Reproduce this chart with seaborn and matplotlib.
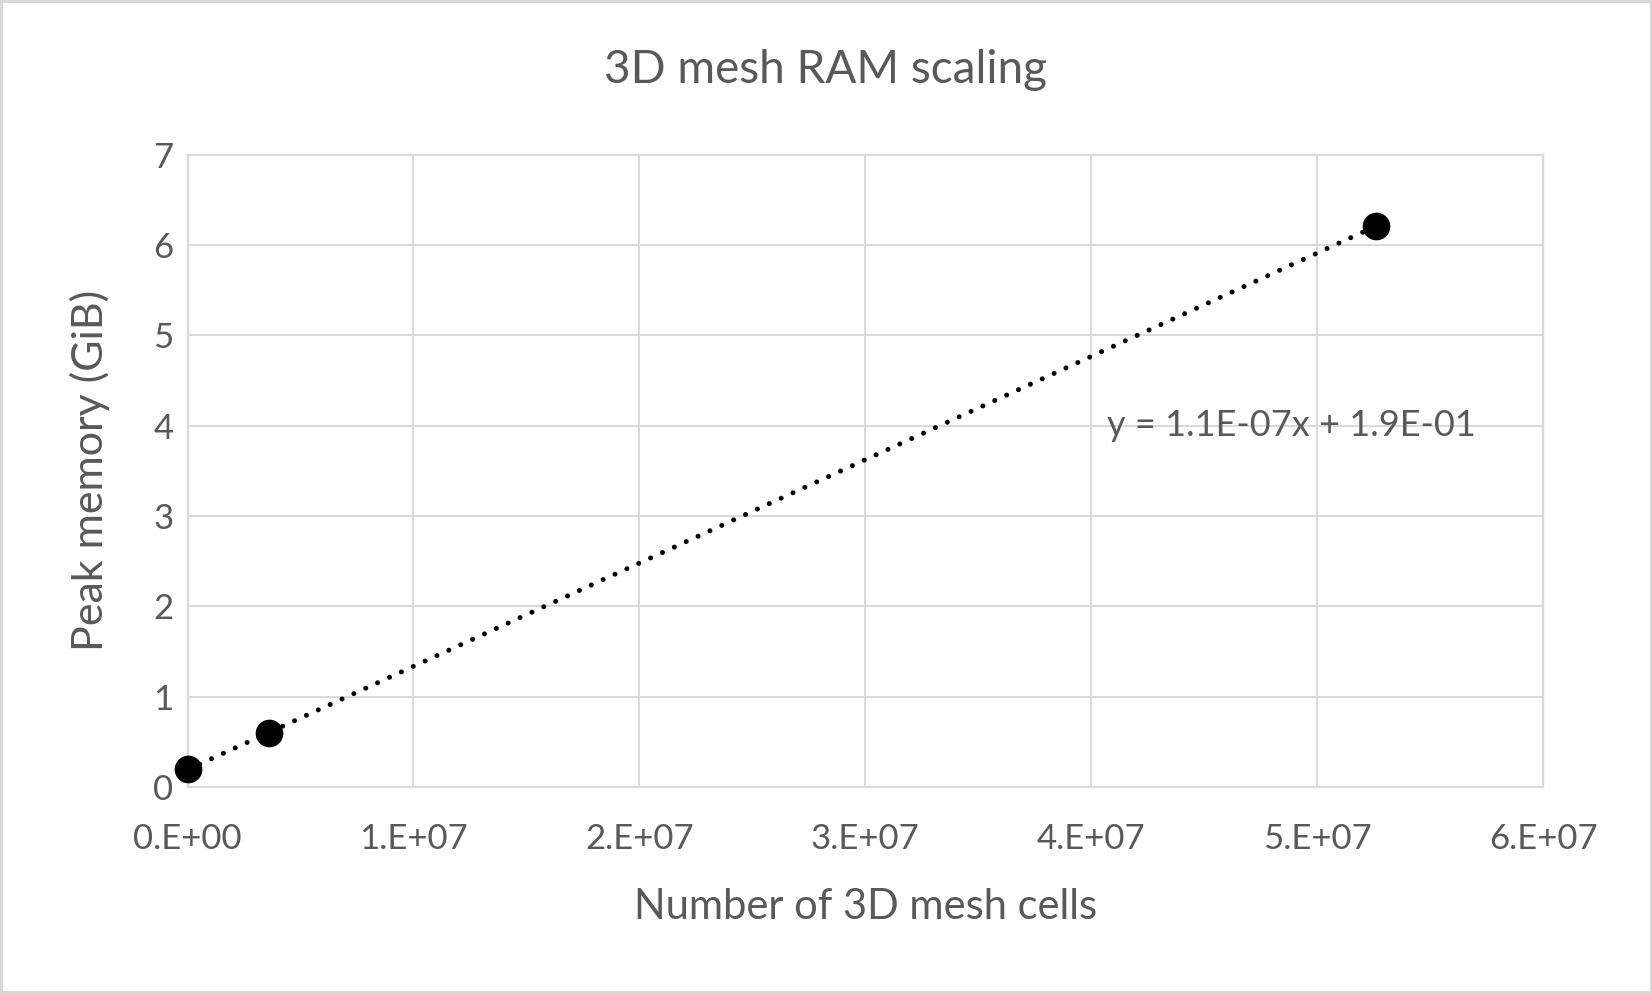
import numpy as np
import pandas as pd
import matplotlib
matplotlib.use("Agg")
import matplotlib.pyplot as plt
import seaborn as sns

# data
cells = [1.0e4, 3.6e6, 5.26e7]
peak_gib = [0.195, 0.6, 6.21]
x_ticks = [0, 1e7, 2e7, 3e7, 4e7, 5e7, 6e7]
x_tick_labels = ["0.E+00", "1.E+07", "2.E+07", "3.E+07", "4.E+07", "5.E+07", "6.E+07"]
y_ticks = [0, 1, 2, 3, 4, 5, 6, 7]

df = pd.DataFrame({"cells": cells, "peak": peak_gib})

sns.set_style("white")
plt.rcParams["font.family"] = ["Lato", "DejaVu Sans"]

txt = "#595959"
grid = "#d9d9d9"

fig = plt.figure(figsize=(16.52, 9.93), dpi=100)
fig.patch.set_edgecolor(grid)
fig.patch.set_linewidth(2.5)
ax = fig.add_axes([0.1135, 0.2075, 0.8205, 0.6365])

sns.regplot(data=df, x="cells", y="peak", scatter=False, ci=None, ax=ax,
            line_kws=dict(color="black", lw=3.6, ls=(0, (0.01, 2.6)),
                          dash_capstyle="round"))
sns.scatterplot(data=df, x="cells", y="peak", ax=ax, s=340, color="black",
                edgecolor="black", zorder=5, clip_on=False)

slope, intercept = np.polyfit(cells, peak_gib, 1)
eq = f"y = {slope:.1E}x + {intercept:.1E}"
ax.text(4.07e7, 4.0, eq, ha="left", va="center", fontsize=26, color=txt)

ax.set_xlim(0, 6e7)
ax.set_ylim(0, 7)
ax.set_xticks(x_ticks)
ax.set_xticklabels(x_tick_labels)
ax.set_yticks(y_ticks)
ax.grid(True, color=grid, lw=1.4)
ax.set_axisbelow(True)
for s in ax.spines.values():
    s.set_color(grid)
    s.set_linewidth(1.6)
ax.tick_params(length=0, labelsize=25, colors=txt)
ax.tick_params(axis="x", pad=26)
ax.tick_params(axis="y", pad=10)
ax.set_xlabel("Number of 3D mesh cells", fontsize=30, color=txt)
ax.set_ylabel("Peak memory (GiB)", fontsize=31, color=txt)
ax.xaxis.set_label_coords(0.5, -0.19)
ax.xaxis.label.set_va("center")
ax.yaxis.set_label_coords(-0.072, 0.5)
ax.yaxis.label.set_va("center")
fig.text(0.5, 0.9295, "3D mesh RAM scaling", fontsize=33, color=txt,
         ha="center", va="center")

fig.savefig("out.png", dpi=100, edgecolor=fig.get_edgecolor())
